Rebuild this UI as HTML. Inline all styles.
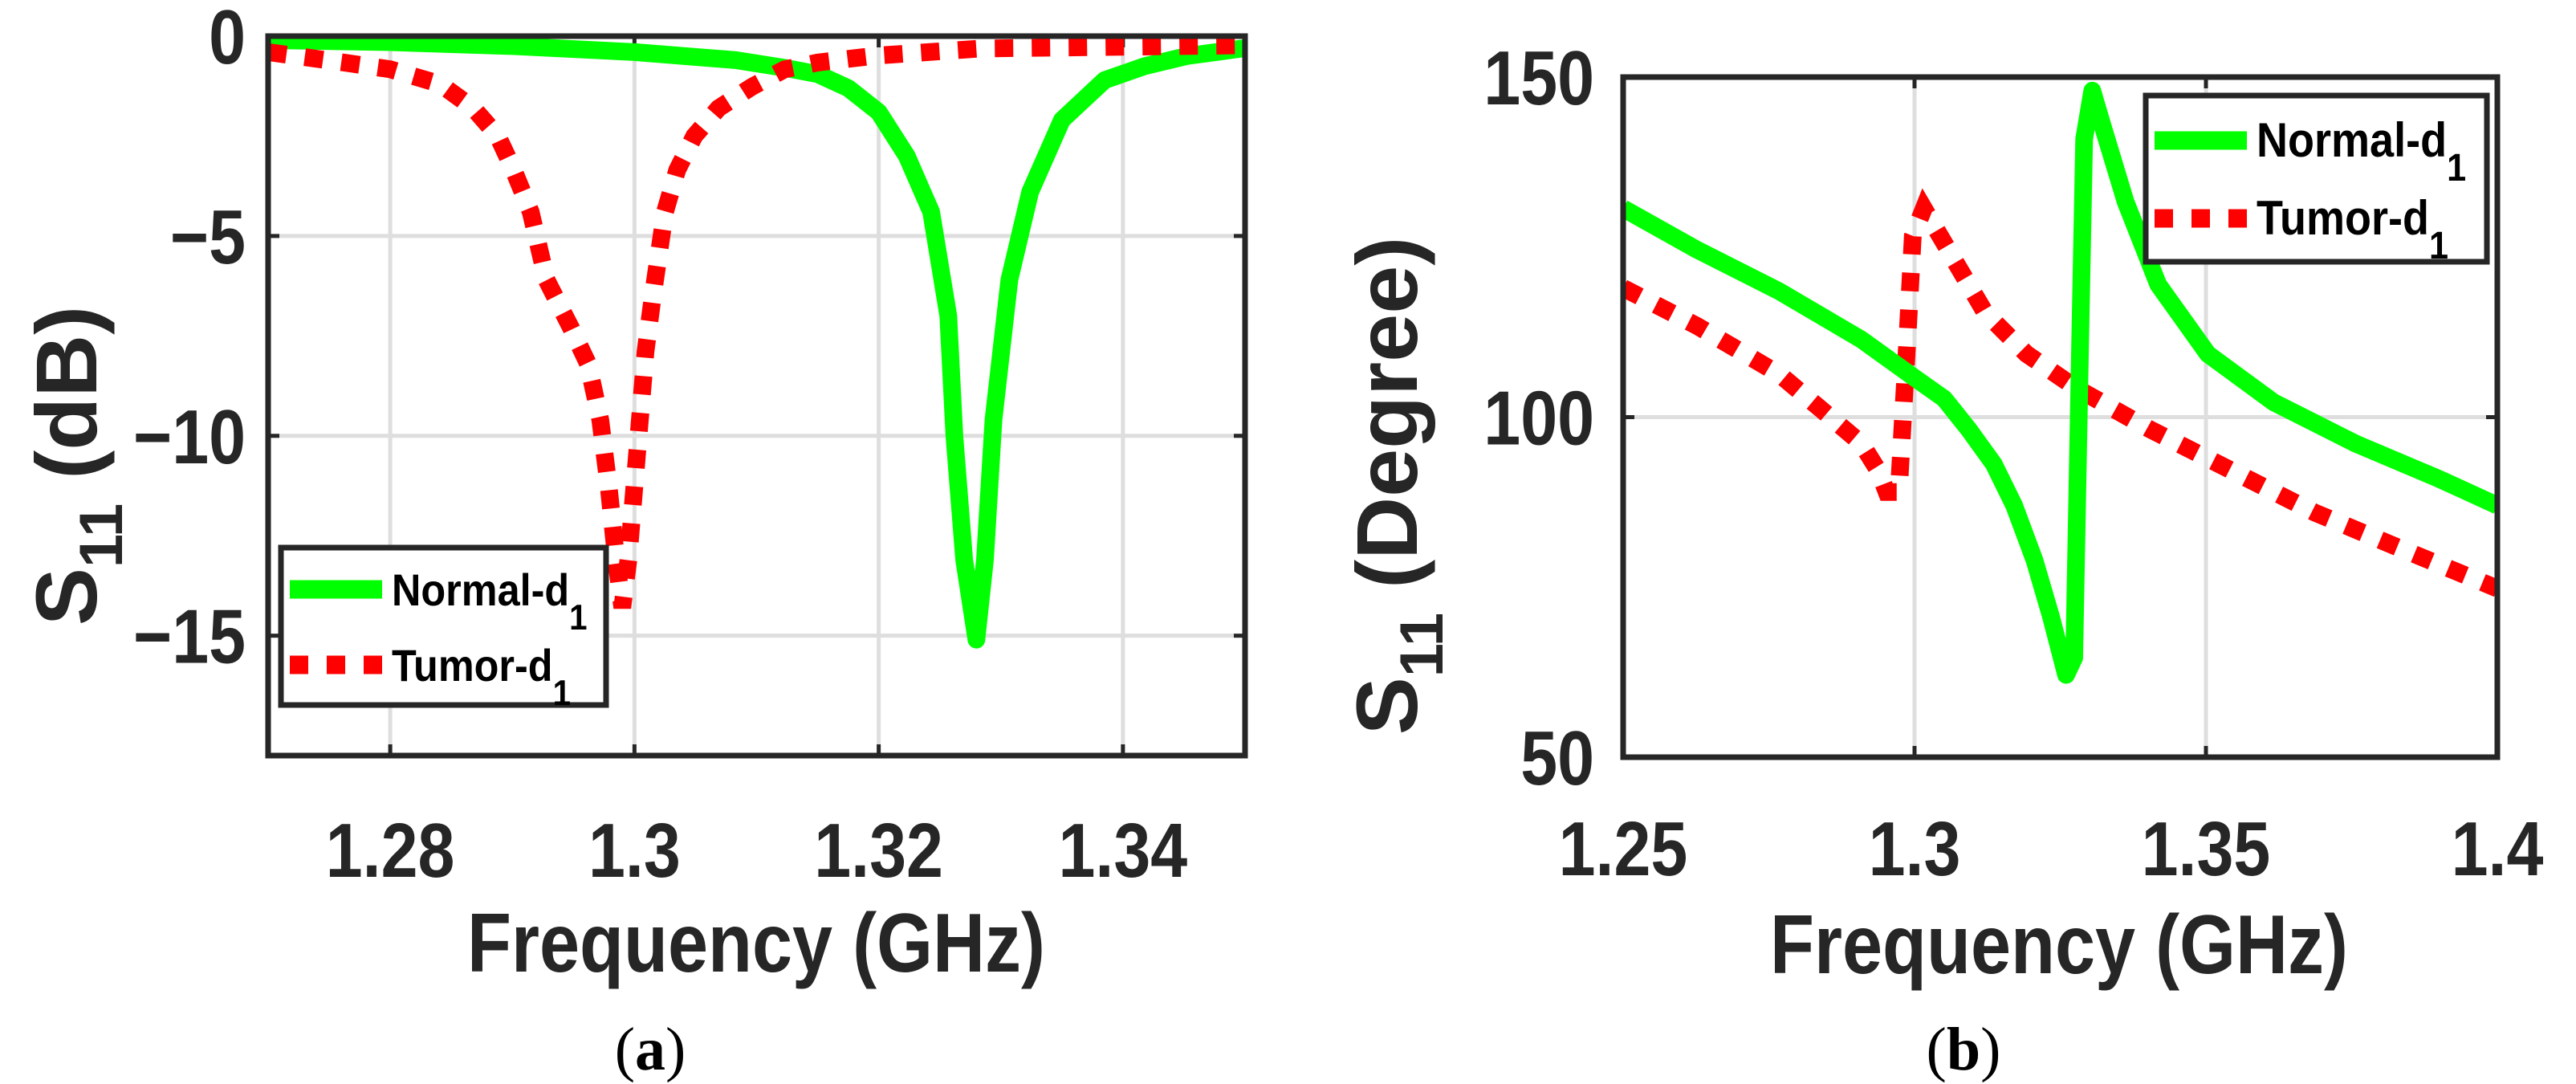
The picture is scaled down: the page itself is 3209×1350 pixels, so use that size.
<!DOCTYPE html>
<html><head><meta charset="utf-8"><style>
html,body{margin:0;padding:0;background:#fff;}
svg{display:block;font-family:"Liberation Sans",Arial,sans-serif;}
</style></head><body>
<svg id="fig" width="3209" height="1350" viewBox="0 0 3209 1350" xmlns="http://www.w3.org/2000/svg">
<rect x="0" y="0" width="3209" height="1350" fill="#fff"/>
<g id="pa"></g>
<g id="pb"></g>
<text x="810" y="1332" font-family="Liberation Serif, serif" font-size="76" text-anchor="middle" fill="#000">(<tspan font-weight="bold">a</tspan>)</text>
<text x="2446" y="1332" font-family="Liberation Serif, serif" font-size="76" text-anchor="middle" fill="#000">(<tspan font-weight="bold">b</tspan>)</text>
</svg>
<script>
// Panel (a) data
const aNormalF = [1.27,1.28,1.29,1.30,1.3083,1.3124,1.315,1.3175,1.320,1.3223,1.3243,1.3257,1.3262,1.327,1.328,1.3287,1.3294,1.3307,1.3324,1.335,1.3385,1.3418,1.3452,1.35];
const aNormalDb = [-0.1,-0.15,-0.25,-0.4,-0.6,-0.8,-0.95,-1.3,-1.9,-3,-4.4,-7,-10,-13.1,-15.1,-13.1,-9.6,-6.1,-3.9,-2.1,-1.1,-0.75,-0.5,-0.3];
const aTumorF = [1.27,1.2762,1.28,1.2841,1.2868,1.2888,1.2901,1.2915,1.2928,1.2948,1.2962,1.2972,1.2979,1.2985,1.299,1.2995,1.3002,1.3009,1.3015,1.3025,1.3035,1.3049,1.3069,1.3096,1.3123,1.315,1.3197,1.3284,1.35];
const aTumorDb = [-0.4,-0.66,-0.83,-1.2,-1.8,-2.5,-3.35,-4.4,-6.1,-7.3,-8.2,-9.6,-11.3,-13.1,-14.3,-13.1,-10.5,-7.9,-6.5,-4.4,-3.35,-2.5,-1.8,-1.27,-0.83,-0.66,-0.49,-0.31,-0.23];
const aXTicks = [1.28,1.30,1.32,1.34];
const aXTickLabels = ["1.28","1.3","1.32","1.34"];
const aYTicks = [0,-5,-10,-15];
const aYTickLabels = ["0","\u22125","\u221210","\u221215"];
// Panel (b) data
const bNormalF = [1.25,1.2627,1.2768,1.2909,1.30,1.3051,1.3093,1.3136,1.3171,1.3206,1.3234,1.326,1.3274,1.3284,1.3291,1.3305,1.3319,1.3362,1.3418,1.3503,1.3616,1.3757,1.3898,1.40];
const bNormalDeg = [130.7,124.6,118.5,111.4,105.8,102.7,98.2,93.1,87,78.9,70.7,62.1,64.6,110.4,140.9,148,143.9,131.7,119.5,109.3,102.2,96.1,91,87];
const bTumorF = [1.25,1.2627,1.2768,1.2839,1.2909,1.2938,1.2952,1.2973,1.2987,1.2997,1.3016,1.3051,1.3121,1.3192,1.3277,1.3404,1.3545,1.3686,1.3828,1.40];
const bTumorDeg = [119,113.4,106.3,101.2,96.1,92.1,89,89,110.4,126.6,130.7,125.6,115.4,109.3,104.3,98.2,92.1,86,80.9,74.8];
const bXTicks = [1.25,1.30,1.35,1.40];
const bXTickLabels = ["1.25","1.3","1.35","1.4"];
const bYTicks = [50,100,150];
const bYTickLabels = ["50","100","150"];

const NS = "http://www.w3.org/2000/svg";
function mk(tag, attrs, parent){
  const e = document.createElementNS(NS, tag);
  for (const k in attrs) e.setAttribute(k, attrs[k]);
  parent.appendChild(e);
  return e;
}
function squeeze(t, f){
  const w = t.getComputedTextLength();
  t.setAttribute('textLength', (w*f).toFixed(1));
  t.setAttribute('lengthAdjust', 'spacingAndGlyphs');
}

function panel(g, cfg){
  const L=cfg.L, R=cfg.R, T=cfg.T, B=cfg.B;
  const sx = v => L + (v-cfg.xmin)/(cfg.xmax-cfg.xmin)*(R-L);
  const sy = v => B - (v-cfg.ymin)/(cfg.ymax-cfg.ymin)*(B-T);
  const id = cfg.id;
  const cp = mk('clipPath',{id:'clip'+id}, g);
  mk('rect',{x:L,y:T,width:R-L,height:B-T}, cp);
  cfg.xt.forEach((v,i)=>{
    const ln = mk('line',{x1:sx(v),x2:sx(v),y1:T,y2:B,stroke:'#dedede','stroke-width':5}, g);
    
    
  });
  cfg.yt.forEach((v,i)=>{
    const ln = mk('line',{x1:L,x2:R,y1:sy(v),y2:sy(v),stroke:'#dedede','stroke-width':5}, g);
    
    
  });
  cfg.xt.forEach(v=>{
    mk('line',{x1:sx(v),x2:sx(v),y1:B,y2:B-14,stroke:'#262626','stroke-width':5}, g);
    mk('line',{x1:sx(v),x2:sx(v),y1:T,y2:T+14,stroke:'#262626','stroke-width':5}, g);
  });
  cfg.yt.forEach(v=>{
    mk('line',{x1:L,x2:L+14,y1:sy(v),y2:sy(v),stroke:'#262626','stroke-width':5}, g);
    mk('line',{x1:R,x2:R-14,y1:sy(v),y2:sy(v),stroke:'#262626','stroke-width':5}, g);
  });
  const pts = (xs,ys)=>xs.map((x,i)=>sx(x).toFixed(1)+','+sy(ys[i]).toFixed(1)).join(' ');
  const sg = mk('g',{'clip-path':'url(#clip'+id+')'}, g);
  const red = mk('polyline',{points:pts(cfg.tf,cfg.tv),fill:'none',stroke:'#ff0000','stroke-width':22,'stroke-dasharray':'23 23','stroke-linejoin':'miter'}, sg);
  
  
  const grn = mk('polyline',{points:pts(cfg.nf,cfg.nv),fill:'none',stroke:'#00ff00','stroke-width':22,'stroke-linejoin':'round','stroke-linecap':'butt'}, sg);
  
  
  if (cfg.redTop){ sg.appendChild(red); }
  const box = mk('rect',{x:L,y:T,width:R-L,height:B-T,fill:'none',stroke:'#262626','stroke-width':7}, g);
  
  
  cfg.xt.forEach((v,i)=>{
    const t = mk('text',{x:sx(v),y:cfg.xly,'font-size':96,'font-weight':'bold','text-anchor':'middle',fill:'#262626'}, g);
    t.textContent = cfg.xl[i];
    
    
    squeeze(t,0.86);
  });
  cfg.yt.forEach((v,i)=>{
    const t = mk('text',{x:cfg.ylx,y:sy(v)+34,'font-size':96,'font-weight':'bold','text-anchor':'end',fill:'#262626'}, g);
    t.textContent = cfg.yl[i];
    
    
    squeeze(t,0.86);
  });
  const xt = mk('text',{x:cfg.xtx,y:cfg.xty,'font-size':104,'font-weight':'bold','text-anchor':'middle',fill:'#262626'}, g);
  xt.textContent = 'Frequency (GHz)';
  
  
  xt.setAttribute('textLength','720');
  xt.setAttribute('lengthAdjust','spacingAndGlyphs');
  const yt = mk('text',{x:0,y:0,'font-size':108,'font-weight':'bold','text-anchor':'middle',fill:'#262626',transform:'translate('+cfg.ytx+','+cfg.yty+') rotate(-90)'}, g);
  
  
  const s1 = mk('tspan',{}, yt); s1.textContent='S';
  const s2 = mk('tspan',{dy:32,'font-size':76}, yt); s2.textContent='11';
  const s3 = mk('tspan',{dy:-32}, yt); s3.textContent='\u00a0'+cfg.yunit;
  const lg = mk('g',{}, g);
  
  
  const lb = cfg.leg;
  mk('rect',{x:lb.x,y:lb.y,width:lb.w,height:lb.h,fill:'#fff',stroke:'#262626','stroke-width':7}, lg);
  const e1 = mk('g',{}, lg);
  
  
  mk('line',{x1:lb.x+11,x2:lb.x+126,y1:lb.y1,y2:lb.y1,stroke:'#00ff00','stroke-width':23}, e1);
  const t1 = mk('text',{x:lb.x+138,y:lb.y1+20,'font-size':lb.fs,'font-weight':'bold',fill:'#000'}, e1);
  mk('tspan',{}, t1).textContent='Normal-d';
  mk('tspan',{dy:30,'font-size':lb.fs*0.8}, t1).textContent='1';
  squeeze(t1,0.9);
  const e2 = mk('g',{}, lg);
  
  
  mk('line',{x1:lb.x+11,x2:lb.x+126,y1:lb.y2,y2:lb.y2,stroke:'#ff0000','stroke-width':23,'stroke-dasharray':'23 23'}, e2);
  const t2 = mk('text',{x:lb.x+138,y:lb.y2+20,'font-size':lb.fs,'font-weight':'bold',fill:'#000'}, e2);
  mk('tspan',{}, t2).textContent='Tumor-d';
  mk('tspan',{dy:30,'font-size':lb.fs*0.8}, t2).textContent='1';
  squeeze(t2,0.9);
}

panel(document.getElementById('pa'),{
  id:'a', L:334, R:1551, T:45, B:941, xmin:1.27, xmax:1.35, ymin:-18, ymax:0,
  xt:aXTicks, xl:aXTickLabels, yt:aYTicks, yl:aYTickLabels,
  nf:aNormalF, nv:aNormalDb, tf:aTumorF, tv:aTumorDb, redTop:true,
  xly:1092, ylx:306, xtx:942, xty:1210, ytx:120, yty:580, yunit:'(dB)',
  leg:{x:350,y:682,w:405,h:196,y1:734,y2:828,fs:56}
});
panel(document.getElementById('pb'),{
  id:'b', L:2022, R:3111, T:96, B:943, xmin:1.25, xmax:1.40, ymin:50, ymax:150,
  xt:bXTicks, xl:bXTickLabels, yt:bYTicks, yl:bYTickLabels,
  nf:bNormalF, nv:bNormalDeg, tf:bTumorF, tv:bTumorDeg, redTop:false,
  xly:1090, ylx:1986, xtx:2565, xty:1212, ytx:1765, yty:605, yunit:'(Degree)',
  leg:{x:2673,y:119,w:425,h:207,y1:175,y2:272,fs:60}
});
</script>
</body></html>
